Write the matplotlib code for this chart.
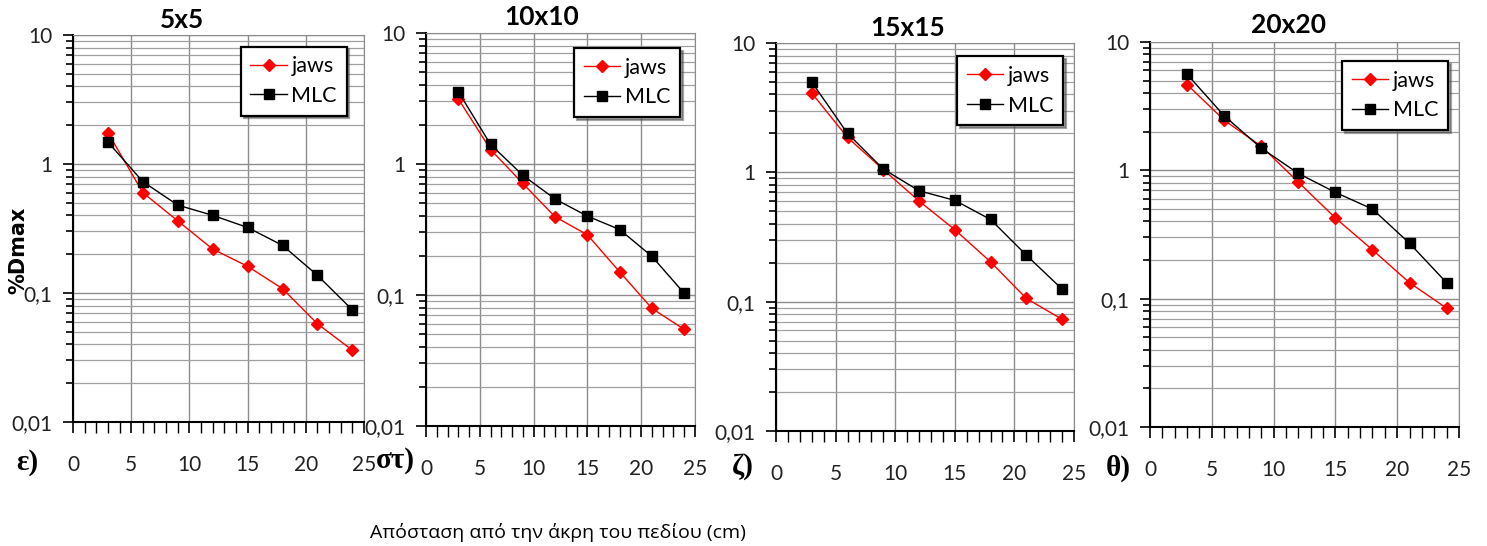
import matplotlib
matplotlib.use('Agg')
import matplotlib.pyplot as plt
from matplotlib.ticker import FixedLocator, NullFormatter, MultipleLocator

plt.rcParams['font.family'] = ['Lato', 'Open Sans', 'DejaVu Sans']

# distance from field edge (cm)
dist = [3, 6, 9, 12, 15, 18, 21, 24]

titles = ['5x5', '10x10', '15x15', '20x20']
panel_tags = ['ε)', 'στ)', 'ζ)', 'θ)']

jaws_5 = [1.75, 0.60, 0.362, 0.219, 0.161, 0.108, 0.0577, 0.036]
mlc_5 = [1.48, 0.73, 0.48, 0.40, 0.322, 0.234, 0.137, 0.074]

jaws_10 = [3.14, 1.29, 0.71, 0.395, 0.288, 0.150, 0.079, 0.0546]
mlc_10 = [3.57, 1.41, 0.82, 0.54, 0.40, 0.316, 0.197, 0.103]

jaws_15 = [4.1, 1.86, 1.05, 0.60, 0.36, 0.203, 0.106, 0.073]
mlc_15 = [4.99, 2.0, 1.06, 0.72, 0.607, 0.432, 0.229, 0.125]

jaws_20 = [4.66, 2.46, 1.54, 0.81, 0.425, 0.24, 0.133, 0.0843]
mlc_20 = [5.61, 2.66, 1.49, 0.946, 0.673, 0.499, 0.27, 0.133]

jaws_all = [jaws_5, jaws_10, jaws_15, jaws_20]
mlc_all = [mlc_5, mlc_10, mlc_15, mlc_20]

ytick_vals = [0.01, 0.1, 1, 10]
ytick_labels = ['0,01', '0,1', '1', '10']
xtick_vals = [0, 5, 10, 15, 20, 25]

W, H = 1487, 546
fig = plt.figure(figsize=(W/100, H/100), dpi=100)

# axes boxes in pixels: left, top, right, bottom
boxes = [(73, 35, 364, 422), (426, 33, 695, 426), (776, 43, 1074, 431), (1150, 42, 1459, 427)]
title_pos = [(182, 20), (542, 17), (908, 28), (1288, 25)]
tag_pos = [(27, 462), (395, 460), (743, 466), (1118, 468)]
leg_anchor = [(0.94, 0.97), (0.944, 0.962), (0.963, 0.966), (0.964, 0.951)]

for k in range(4):
    l, t, r, b = boxes[k]
    ax = fig.add_axes([l/W, 1-b/H, (r-l)/W, (b-t)/H])
    ax.set_yscale('log')
    ax.set_xlim(0, 25)
    ax.set_ylim(0.01, 10)

    ax.plot(dist, jaws_all[k], '-', color='red', lw=1.0, marker='D', ms=6,
            mfc='red', mec='red', label='jaws', zorder=3)
    ax.plot(dist, mlc_all[k], '-', color='black', lw=1.0, marker='s', ms=6.5,
            mfc='black', mec='black', label='MLC', zorder=3)

    ax.set_yticks(ytick_vals)
    ax.set_yticklabels(ytick_labels)
    minors = [m*10.0**e for e in (-2, -1, 0) for m in range(2, 10)]
    ax.yaxis.set_minor_locator(FixedLocator(minors))
    ax.yaxis.set_minor_formatter(NullFormatter())
    ax.set_xticks(xtick_vals)
    ax.xaxis.set_minor_locator(MultipleLocator(1))

    ax.grid(True, which='major', axis='both', color='#8c8c8c', lw=1.0)
    ax.grid(True, which='minor', axis='y', color='#a0a0a0', lw=0.9)

    ax.tick_params(axis='y', which='major', direction='out', length=7, width=1.2,
                   labelsize=15, pad=8, colors='black', labelcolor='#222222')
    ax.tick_params(axis='y', which='minor', direction='out', length=5, width=1.2)
    ax.tick_params(axis='x', which='major', direction='out', length=8, width=1.2,
                   labelsize=15, pad=16, labelcolor='#222222')
    ax.tick_params(axis='x', which='minor', direction='out', length=8, width=1.0)

    ax.spines['left'].set_linewidth(1.5)
    ax.spines['bottom'].set_linewidth(1.5)
    ax.spines['top'].set_color('#8c8c8c')
    ax.spines['right'].set_color('#8c8c8c')

    leg = ax.legend(loc='upper right', bbox_to_anchor=leg_anchor[k], fontsize=15.5,
                    frameon=True, fancybox=False, shadow=True, handlelength=1.7,
                    borderpad=0.45, labelspacing=0.45, handletextpad=0.2,
                    borderaxespad=0)
    leg.get_frame().set_edgecolor('black')
    leg.get_frame().set_linewidth(1.6)
    leg.get_frame().set_alpha(1)

    tx, ty = title_pos[k]
    fig.text(tx/W, 1-ty/H, titles[k], ha='center', va='center', fontsize=19,
             fontweight='bold')
    gx, gy = tag_pos[k]
    fig.text(gx/W, 1-gy/H, panel_tags[k], ha='center', va='center', fontsize=21,
             fontweight='bold', family=['Liberation Serif', 'DejaVu Serif'])

fig.text(18/W, 1-250/H, '%Dmax', rotation=90, ha='center', va='center',
         fontsize=15, fontweight='bold', family=['DejaVu Sans'])
fig.text(558/W, 1-532/H, 'Απόσταση από την άκρη του πεδίου (cm)', ha='center',
         va='center', fontsize=14, family=['Open Sans', 'DejaVu Sans'])

fig.savefig('out.png', dpi=100)
